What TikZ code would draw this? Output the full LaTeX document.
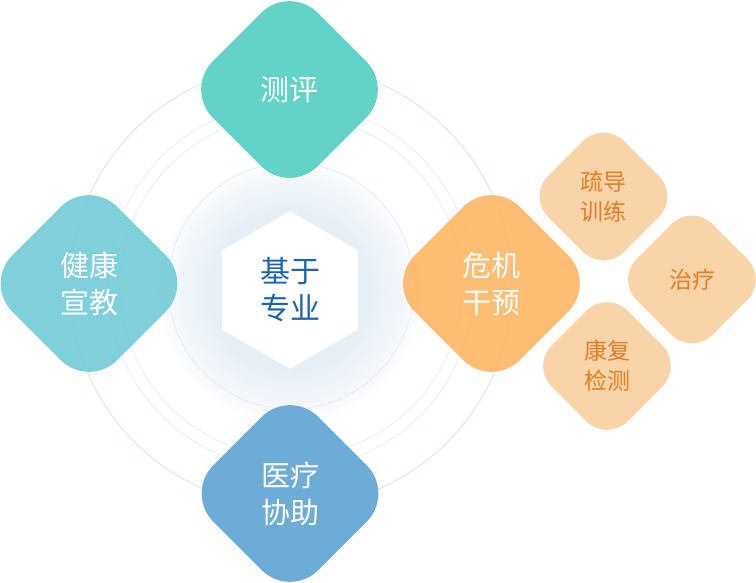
\documentclass[tikz,border=0pt]{standalone}
\usepackage{fontspec}
\setmainfont{Noto Sans CJK SC}
\usetikzlibrary{shapes.geometric}
\definecolor{cteal}{HTML}{5BD1C5}
\definecolor{ccyan}{HTML}{79CDD9}
\definecolor{corange}{HTML}{FDB96B}
\definecolor{cblue}{HTML}{66A8D6}
\definecolor{cpeach}{HTML}{F9D4A9}
\definecolor{cpeachtext}{HTML}{E27E26}
\definecolor{ccenter}{HTML}{1C63B0}
\definecolor{ring}{HTML}{CFE2F2}
\definecolor{ringlight}{HTML}{E3EDF6}
\definecolor{glowc}{HTML}{D9E6F1}
\tikzset{
  bigdia/.style={diamond, aspect=1, minimum width=210pt, minimum height=210pt, inner sep=0pt,
    rounded corners=40pt, fill=#1, fill opacity=0.95, text opacity=1, text=white,
    align=center, font=\fontsize{29}{37}\selectfont},
  smalldia/.style={diamond, aspect=1, minimum width=152pt, minimum height=152pt, inner sep=0pt,
    rounded corners=29pt, fill=cpeach, text=cpeachtext,
    align=center, font=\fontsize{23}{30}\selectfont},
  ringline/.style={draw=#1, line width=0.8pt},
  glowdisc/.style={fill=glowc, fill opacity=0.05}
}
\begin{document}
\begin{tikzpicture}[x=1pt,y=-1pt]
\useasboundingbox (0,0) rectangle (756,582);
% glow
\foreach \r in {132,129,...,78} {\fill[glowdisc] (290,292) circle (\r);}
% rings
\draw[ringline=ring] (291,286) circle (221);
\draw[ringline=ringlight] (291,286) circle (183);
\draw[ringline=ringlight] (291,286) circle (171);
\draw[ringline=ringlight] (291,286) circle (123);
% centre hexagon
\node[regular polygon, regular polygon sides=6, shape border rotate=30, minimum size=157.6pt,
  inner sep=0pt, fill=white, text=ccenter, align=center, font=\fontsize{30}{37}\selectfont]
  (core) at (290,290) {基于\\专业};
% big diamonds
\node[bigdia=cteal] (ceping) at (289.5,89.5) {测评};
\node[bigdia=ccyan] (jiankang) at (89,283.5) {健康\\宣教};
\node[bigdia=corange] (weiji) at (491.5,283.5) {危机\\干预};
\node[bigdia=cblue] (yiliao) at (290,493.5) {医疗\\协助};
% small diamonds
\node[smalldia] (shudao) at (603.5,196.5) {疏导\\训练};
\node[smalldia] (zhiliao) at (692,279.5) {治疗};
\node[smalldia] (kangfu) at (607,366) {康复\\检测};
\end{tikzpicture}
\end{document}
